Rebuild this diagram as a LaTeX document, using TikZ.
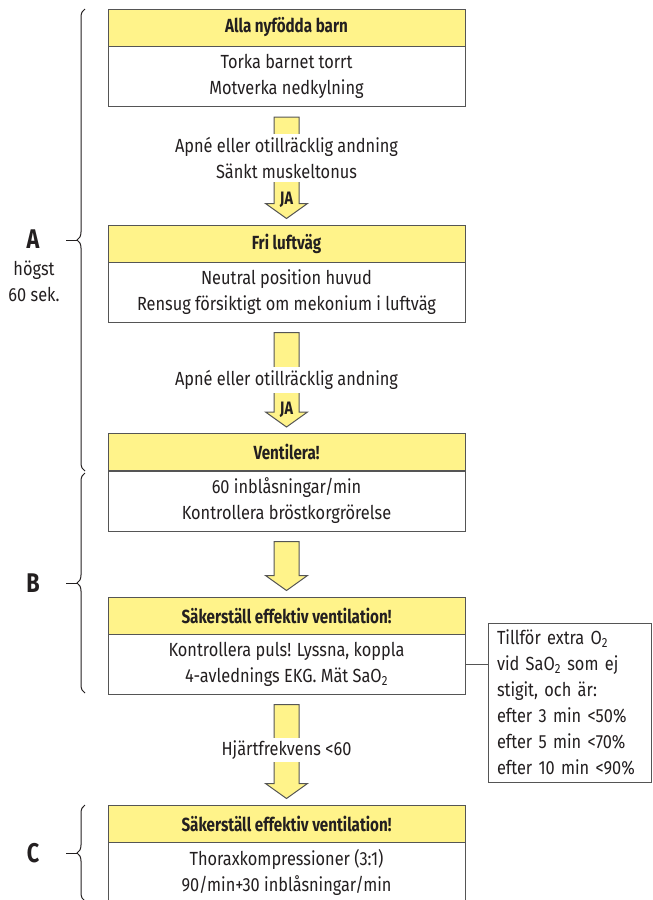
\documentclass[tikz,border=0pt]{standalone}
\usepackage{fontspec}
\setmainfont{Fira Sans}[FakeStretch=0.86,BoldFeatures={FakeStretch=0.8}]
\usetikzlibrary{calc,decorations.pathreplacing}
\definecolor{boxyellow}{RGB}{255,243,138}
\definecolor{boxline}{RGB}{85,85,85}
\definecolor{ink}{RGB}{35,31,32}

\begin{document}
\begin{tikzpicture}[x=1pt,y=-1pt,line width=1pt,
    head/.style={draw=boxline,fill=boxyellow,minimum width=357pt,minimum height=37pt,text=ink,font=\fontsize{19}{26}\selectfont\bfseries},
    body/.style={draw=boxline,fill=white,minimum width=357pt,minimum height=60pt,align=center,text=ink,font=\fontsize{19}{26}\selectfont},
    bigarrow/.style={draw=boxline,fill=boxyellow,line join=miter},
    cond/.style={fill=white,inner sep=3pt,align=center,text=ink,font=\fontsize{19}{26}\selectfont},
    ja/.style={inner sep=0pt,text=ink,font=\fontsize{18}{20}\selectfont\bfseries},
    brace/.style={draw=ink,decorate,decoration={brace,amplitude=8pt}},
    seclabel/.style={text=ink,font=\fontsize{27}{30}\selectfont\bfseries},
    note/.style={align=center,text=ink,font=\fontsize{19}{26}\selectfont}]

    \useasboundingbox (0,0) rectangle (653,900);
    \clip (0,0) rectangle (653,900);

    \node[head] (h1) at (286.5,27.5) {Alla nyfödda barn};
    \node[body] (b1) at (286.5,76.5) {Torka barnet torrt\\Motverka nedkylning};
    \node[head] (h2) at (286.5,243.5) {Fri luftväg};
    \node[body] (b2) at (286.5,292) {Neutral position huvud\\Rensug försiktigt om mekonium i luftväg};
    \node[head] (h3) at (286.5,452) {Ventilera!};
    \node[body] (b3) at (286.5,501) {60 inblåsningar/min\\Kontrollera bröstkorgrörelse};
    \node[head] (h4) at (286.5,615.5) {Säkerställ effektiv ventilation!};
    \node[body] (b4) at (286.5,664) {Kontrollera puls! Lyssna, koppla\\4-avlednings EKG. Mät SaO\textsubscript{2}};
    \node[head] (h5) at (286.5,823.5) {Säkerställ effektiv ventilation!};
    \node[body] (b5) at (286.5,872) {Thoraxkompressioner (3:1)\\90/min+30 inblåsningar/min};

    \foreach \a/\b in {b1/h2,b2/h3,b3/h4,b4/h5}
        \draw[bigarrow] ($(\a.south)+(-12.5,10)$) -- ($(\b.north)+(-12.5,-21)$)
            -- ($(\b.north)+(-21,-21)$) -- ($(\b.north)+(0,-6)$)
            -- ($(\b.north)+(21,-21)$) -- ($(\b.north)+(12.5,-21)$)
            -- ($(\a.south)+(12.5,10)$) -- cycle;

    \node[cond] (c1) at (286.5,158) {Apné eller otillräcklig andning\\Sänkt muskeltonus};
    \node[cond] (c2) at (286.5,380) {Apné eller otillräcklig andning};
    \node[cond] (c4) at (286.5,750) {Hjärtfrekvens <60};
    \node[ja] (ja1) at (286.5,200) {JA};
    \node[ja] (ja2) at (286.5,410) {JA};

    \node[draw=boxline,fill=white,minimum width=163pt,minimum height=159pt,text width=145pt,inner xsep=9pt,align=left,text=ink,font=\fontsize{19}{26}\selectfont] (side) at (569.5,702.5)
        {Tillför extra O\textsubscript{2}\\vid SaO\textsubscript{2} som ej\\stigit, och är:\\efter 3 min <50\%\\efter 5 min <70\%\\efter 10 min <90\%};
    \draw[boxline] (b4.east) -- (b4.east -| side.west);

    \draw[brace] (85,471) -- (85,9);
    \draw[ink] (77,240) -- (66,240);
    \draw[brace] (85,693) -- (85,473);
    \draw[ink] (77,583) -- (66,583);
    \draw[brace] (85,901) -- (85,805);
    \draw[ink] (77,853) -- (66,853);

    \node[seclabel] (la) at (33,239) {A};
    \node[note] (lat) at (34,281) {högst\\60 sek.};
    \node[seclabel] (lb) at (33,583) {B};
    \node[seclabel] (lc) at (33,853) {C};

\end{tikzpicture}
\end{document}
